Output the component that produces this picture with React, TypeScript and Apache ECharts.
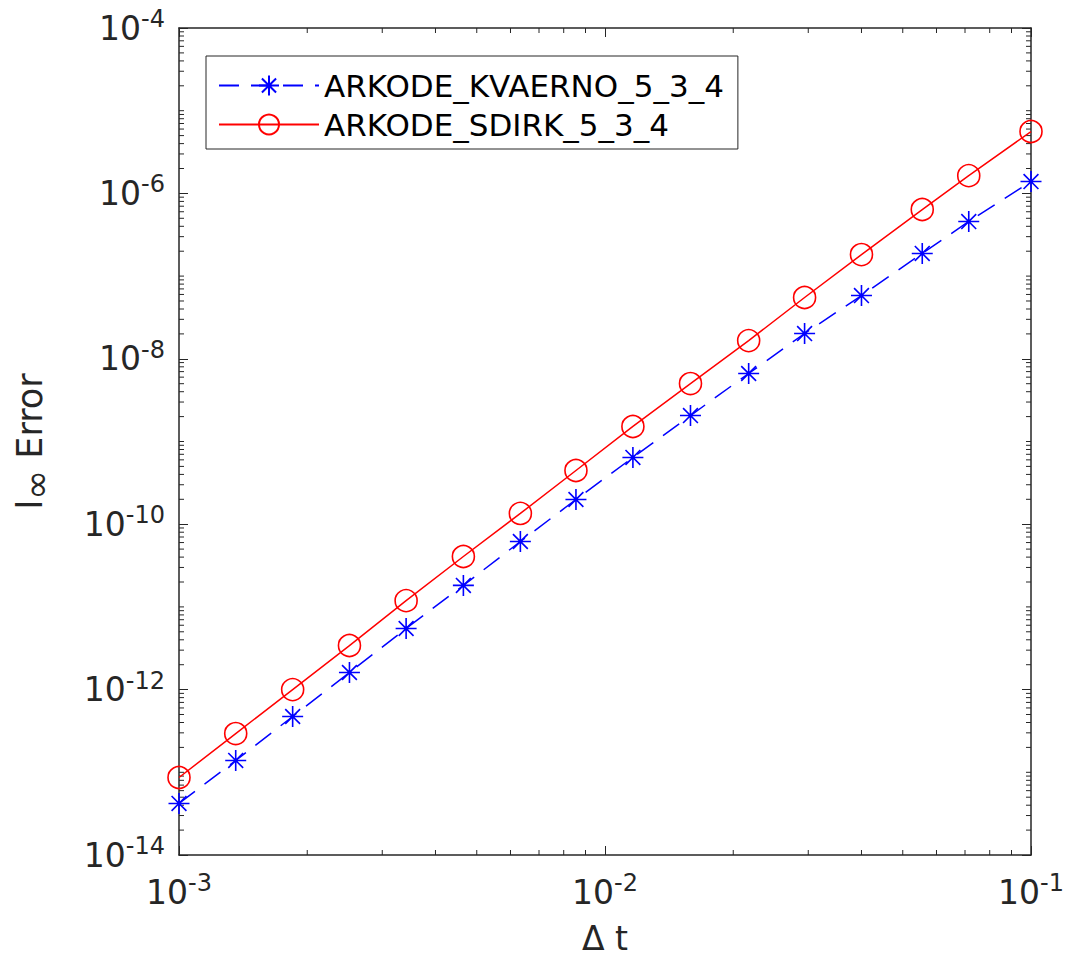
import React, { useEffect, useRef } from "react";
import * as echarts from "echarts";

// Step sizes (Δt)
const dtValues = [
  0.001, 0.0013587, 0.0018484, 0.0025126, 0.003413, 0.0046512, 0.0063291, 0.008547,
  0.0116279, 0.015873, 0.0217391, 0.0294118, 0.04, 0.0555556, 0.0714286, 0.1,
];
// l∞ error, ARKODE_KVAERNO_5_3_4
const kvaernoErr = [
  4.2e-14, 1.39e-13, 4.73e-13, 1.61e-12, 5.48e-12, 1.82e-11, 6.18e-11, 1.99e-10,
  6.41e-10, 2.06e-9, 6.64e-9, 2.02e-8, 5.82e-8, 1.88e-7, 4.57e-7, 1.39e-6,
];
// l∞ error, ARKODE_SDIRK_5_3_4
const sdirkErr = [
  8.65e-14, 2.94e-13, 1.0e-12, 3.41e-12, 1.19e-11, 4.07e-11, 1.35e-10, 4.46e-10,
  1.52e-9, 5.02e-9, 1.66e-8, 5.51e-8, 1.82e-7, 6.38e-7, 1.64e-6, 5.6e-6,
];
const seriesNames = ["ARKODE_KVAERNO_5_3_4", "ARKODE_SDIRK_5_3_4"];

const X_MIN = 1e-3;
const X_MAX = 1e-1;
const Y_MIN = 1e-14;
const Y_MAX = 1e-4;

const AXIS = "#262626";
const FONT = "DejaVu Sans";
const ASTERISK =
  "path://M0,-10L0,10M-10,0L10,0M-7.07,-7.07L7.07,7.07M-7.07,7.07L7.07,-7.07";

// Minor tick positions (log decades)
const yMinorTicks: number[] = [];
for (let e = -14; e < -4; e++) {
  for (let m = 1; m <= 9; m++) {
    if (m === 1 && e % 2 === 0) continue;
    yMinorTicks.push(m * Math.pow(10, e));
  }
}
const xMinorTicks: number[] = [];
for (let e = -3; e < -1; e++) {
  for (let m = 2; m <= 9; m++) xMinorTicks.push(m * Math.pow(10, e));
}

const expLabel = (v: number) => {
  const e = Math.round(Math.log10(v));
  return `{b|10}{s|${e}}`;
};

export default function App() {
  const ref = useRef<HTMLDivElement>(null);
  useEffect(() => {
    document.body.style.margin = "0";
    if (!ref.current) return;
    const chart = echarts.init(ref.current, null, { renderer: "svg" });
    const labelRich = {
      b: { fontSize: 33, fontFamily: FONT, color: AXIS },
      s: { fontSize: 24, fontFamily: FONT, color: AXIS, padding: [0, 0, 18, 0] },
    };
    const tickLine = (x1: number, y1: number, x2: number, y2: number) => ({
      type: "line",
      shape: { x1, y1, x2, y2 },
      style: { stroke: AXIS, lineWidth: 1 },
    });
    const axisLabelBase = {
      formatter: expLabel,
      rich: labelRich,
      fontSize: 33,
      fontFamily: FONT,
      color: AXIS,
    };
    chart.setOption({
      animation: false,
      backgroundColor: "#ffffff",
      grid: {
        left: 179,
        right: 35,
        top: 28,
        bottom: 107,
        show: false,
        containLabel: false,
        outerBoundsMode: "none",
      },
      legend: {
        data: seriesNames,
        orient: "vertical",
        left: 206,
        top: 56,
        padding: [14, 14, 9, 12],
        itemWidth: 100,
        itemHeight: 25,
        itemGap: 8,
        backgroundColor: "#ffffff",
        borderColor: AXIS,
        borderWidth: 1,
        borderRadius: 0,
        textStyle: { fontSize: 31, fontFamily: FONT, color: "#000000" },
      },
      xAxis: [
        {
          type: "log",
          logBase: 10,
          min: X_MIN,
          max: X_MAX,
          interval: 1,
          name: "Δ t",
          nameLocation: "middle",
          nameGap: 67,
          nameTextStyle: { fontSize: 33, fontFamily: FONT, color: AXIS },
          axisLine: { show: true, lineStyle: { color: AXIS, width: 1.5 } },
          axisTick: { show: true, inside: true, length: 9, lineStyle: { color: AXIS, width: 1 } },
          splitLine: { show: false },
          axisLabel: { ...axisLabelBase, margin: 16 },
        },
        {
          type: "log",
          logBase: 10,
          min: X_MIN,
          max: X_MAX,
          interval: 1,
          position: "top",
          axisLine: { show: true, lineStyle: { color: AXIS, width: 1.5 } },
          axisTick: { show: true, inside: true, length: 9, lineStyle: { color: AXIS, width: 1 } },
          splitLine: { show: false },
          axisLabel: { show: false },
        },
      ],
      yAxis: [
        {
          type: "log",
          logBase: 10,
          min: Y_MIN,
          max: Y_MAX,
          interval: 2,
          name: "{a|l}{sub|∞}{a| Error}",
          nameLocation: "middle",
          nameGap: 125,
          nameTextStyle: {
            fontSize: 35,
            fontFamily: FONT,
            color: AXIS,
            rich: {
              a: { fontSize: 35, fontFamily: FONT, color: AXIS },
              sub: { fontSize: 36, fontFamily: FONT, color: AXIS, padding: [12, 0, 0, 0] },
            },
          },
          axisLine: { show: true, lineStyle: { color: AXIS, width: 1.5 } },
          axisTick: { show: true, inside: true, length: 9, lineStyle: { color: AXIS, width: 1 } },
          splitLine: { show: false },
          axisLabel: { ...axisLabelBase, margin: 14 },
        },
        {
          type: "log",
          logBase: 10,
          min: Y_MIN,
          max: Y_MAX,
          interval: 2,
          position: "right",
          axisLine: { show: true, lineStyle: { color: AXIS, width: 1.5 } },
          axisTick: { show: true, inside: true, length: 9, lineStyle: { color: AXIS, width: 1 } },
          splitLine: { show: false },
          axisLabel: { show: false },
        },
      ],
      series: [
        {
          name: "yMinor",
          type: "custom",
          silent: true,
          xAxisIndex: 0,
          yAxisIndex: 0,
          data: yMinorTicks.map((v) => [X_MIN, v]),
          renderItem: (_p: any, api: any) => {
            const v = api.value(1);
            const a = api.coord([X_MIN, v]);
            const b = api.coord([X_MAX, v]);
            return {
              type: "group",
              children: [
                tickLine(a[0], a[1], a[0] + 5, a[1]),
                tickLine(b[0], b[1], b[0] - 5, b[1]),
              ],
            };
          },
        },
        {
          name: "xMinor",
          type: "custom",
          silent: true,
          xAxisIndex: 0,
          yAxisIndex: 0,
          data: xMinorTicks.map((v) => [v, Y_MIN]),
          renderItem: (_p: any, api: any) => {
            const v = api.value(0);
            const a = api.coord([v, Y_MIN]);
            const b = api.coord([v, Y_MAX]);
            return {
              type: "group",
              children: [
                tickLine(a[0], a[1], a[0], a[1] - 5),
                tickLine(b[0], b[1], b[0], b[1] + 5),
              ],
            };
          },
        },
        {
          name: seriesNames[0],
          type: "line",
          xAxisIndex: 0,
          yAxisIndex: 0,
          data: dtValues.map((d, i) => [d, kvaernoErr[i]]),
          symbol: ASTERISK,
          symbolSize: 21,
          showAllSymbol: true,
          lineStyle: { color: "#0000ff", width: 1.5, type: [20, 12] },
          itemStyle: { color: "none", borderColor: "#0000ff", borderWidth: 1.6 },
          z: 3,
        },
        {
          name: seriesNames[1],
          type: "line",
          xAxisIndex: 0,
          yAxisIndex: 0,
          data: dtValues.map((d, i) => [d, sdirkErr[i]]),
          symbol: "circle",
          symbolSize: 22,
          showAllSymbol: true,
          lineStyle: { color: "#ff0000", width: 1.5 },
          itemStyle: { color: "none", borderColor: "#ff0000", borderWidth: 1.6 },
          z: 4,
        },
      ],
    });
    return () => chart.dispose();
  }, []);
  return <div ref={ref} style={{ width: 1066, height: 962 }} />;
}
